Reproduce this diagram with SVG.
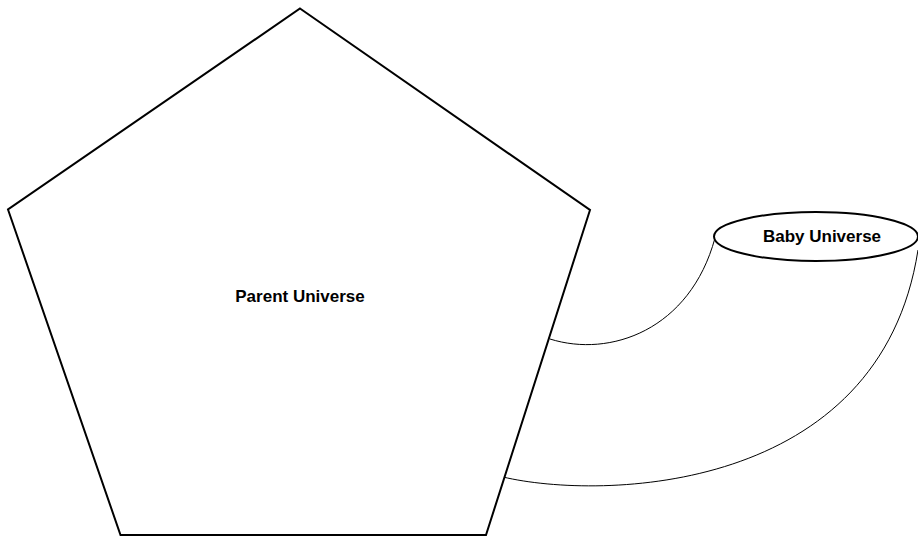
<svg xmlns="http://www.w3.org/2000/svg" width="918" height="536" viewBox="0 0 918 536">
<style>
.shape{fill:#ffffff;stroke:#000000;stroke-width:2}
.conn{fill:none;stroke:#000000;stroke-width:1}
.lbl{font-family:"Liberation Sans",Arial,sans-serif;font-weight:bold;font-size:17px;fill:#000000;text-anchor:middle;dominant-baseline:central}
</style>
<rect width="918" height="536" fill="#ffffff"/>
<g id="connectors">
<path class="conn" d="M550,339 C610,358 690,330 715,238"/>
<path class="conn" d="M503,477 C600,500 880,495 918,250"/>
</g>
<g id="parent">
<polygon class="shape" points="300,8.5 590,210 486,535 120.5,535 8,209.5"/>
<text class="lbl" x="300" y="296">Parent Universe</text>
</g>
<g id="baby">
<ellipse class="shape" cx="816" cy="236.5" rx="102" ry="24.5"/>
<text class="lbl" x="822" y="236">Baby Universe</text>
</g>
</svg>
